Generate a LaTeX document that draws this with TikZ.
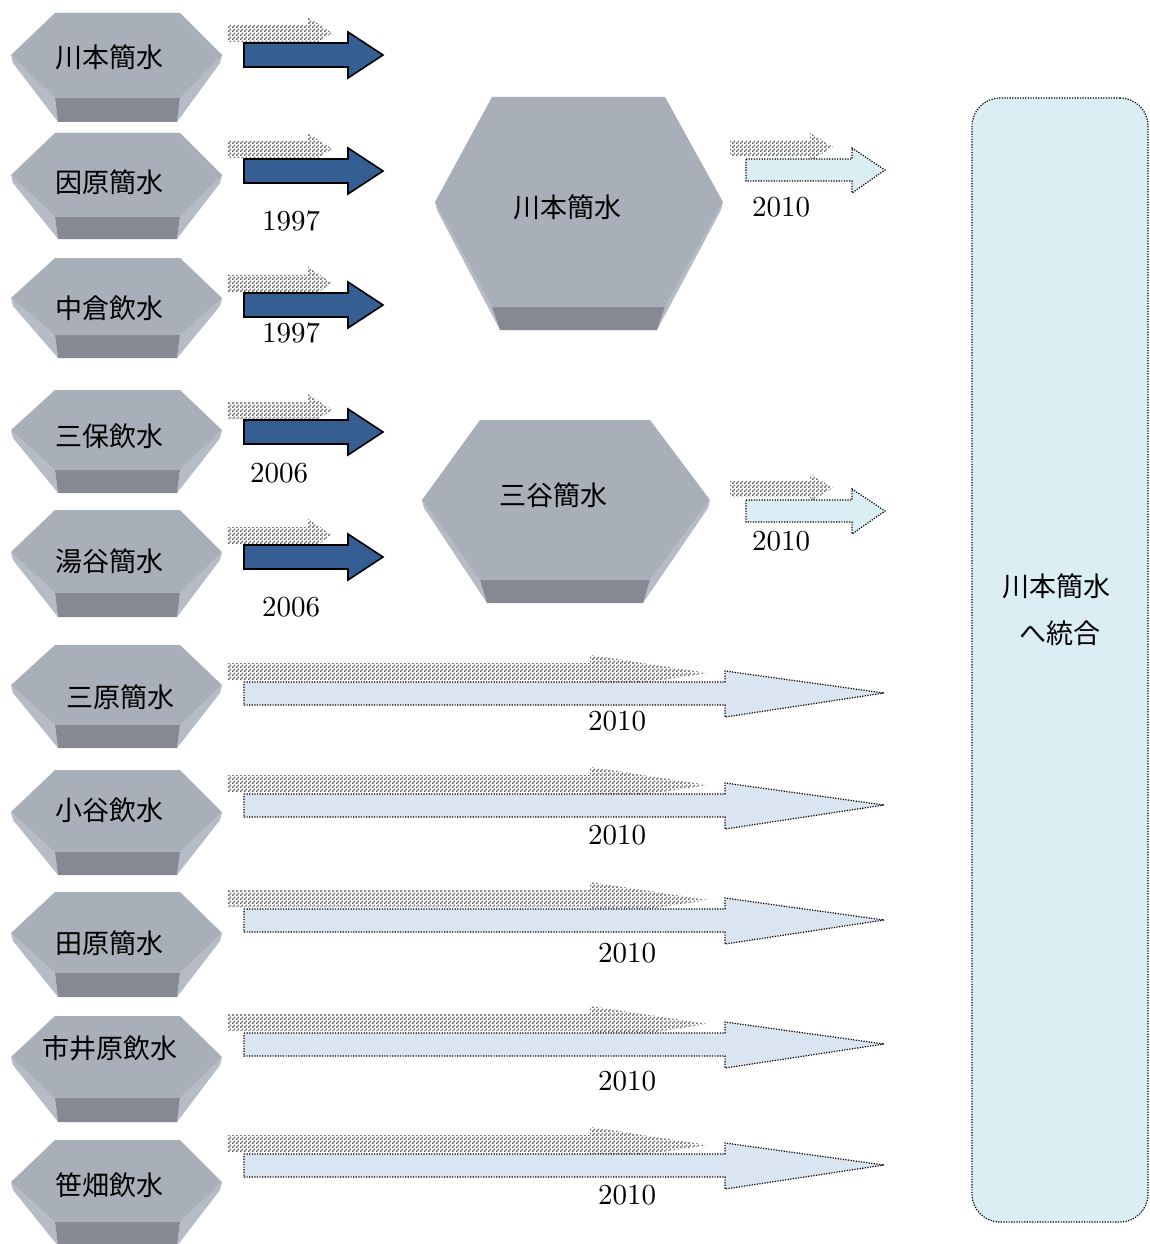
\documentclass[tikz,border=0pt]{standalone}
\usepackage{fontspec}
\newfontfamily\cjk{Noto Sans CJK JP}
\newfontfamily\numfont{lmroman10-regular.otf}
\usetikzlibrary{patterns}
\pgfdeclarepatternformonly{chk}{\pgfqpoint{0pt}{0pt}}{\pgfqpoint{4pt}{4pt}}{\pgfqpoint{4pt}{4pt}}{%
  \pgfpathrectangle{\pgfqpoint{0pt}{0pt}}{\pgfqpoint{2pt}{2pt}}%
  \pgfpathrectangle{\pgfqpoint{2pt}{2pt}}{\pgfqpoint{2pt}{2pt}}%
  \pgfusepath{fill}}
\definecolor{hextop}{HTML}{A9AFB8}
\definecolor{hexside}{HTML}{B6BCC6}
\definecolor{hexfront}{HTML}{868992}
\definecolor{darkblue}{HTML}{355F93}
\definecolor{paleblue}{HTML}{DAEEF3}
\definecolor{palegray}{HTML}{DBE5F1}
\definecolor{hatchgray}{HTML}{6A6A6A}
\tikzset{
  hexlabel/.style={font=\cjk\fontsize{27}{32}\selectfont, inner sep=0pt},
  yearlabel/.style={font=\numfont\fontsize{29}{36}\selectfont, inner sep=0pt},
  darkarrow/.style={fill=darkblue, draw=black, line width=1.6pt, line join=miter},
  hatcharrow/.style={pattern=chk, pattern color=hatchgray},
  dotline/.style={draw=black, line width=1.2pt, dash pattern=on 1.2pt off 1.4pt},
  shortlight/.style={dotline, fill=paleblue},
  longlight/.style={dotline, fill=palegray},
}
% #1 xl #2 xa #3 xb #4 xr #5 ytop #6 ytip #7 ydark #8 ybot #9 inset
\newcommand\hexShape[9]{%
  \fill[hexside] (#1,#6) -- (#1+2,#6+8) -- (#2+#9,#8) -- (#2,#7) -- cycle;
  \fill[hexside] (#4,#6) -- (#4-2,#6+8) -- (#3-#9,#8) -- (#3,#7) -- cycle;
  \fill[hexfront] (#2,#7) -- (#3,#7) -- (#3-#9,#8) -- (#2+#9,#8) -- cycle;
  \fill[hextop] (#2,#5) -- (#3,#5) -- (#4,#6) -- (#3,#7) -- (#2,#7) -- (#1,#6) -- cycle;
}
\newcommand\smallHex[4]{\hexShape{11}{55}{180}{222}{#1}{#2}{#3}{#4}{3}}
\newcommand\darkArrow[1]{%
  \fill[hatcharrow] (228,#1-30) -- (308,#1-30) -- (308,#1-38) -- (332,#1-22) -- (308,#1-6) -- (308,#1-13) -- (228,#1-13) -- cycle;
  \draw[darkarrow] (244,#1-12) -- (348,#1-12) -- (348,#1-23) -- (383,#1) -- (348,#1+23) -- (348,#1+12) -- (244,#1+12) -- cycle;
}
\newcommand\shortLight[1]{%
  \fill[hatcharrow] (730,#1-30) -- (810,#1-30) -- (810,#1-37) -- (833,#1-23) -- (810,#1-9) -- (810,#1-14) -- (730,#1-14) -- cycle;
  \draw[shortlight] (746,#1-11) -- (852,#1-11) -- (852,#1-22) -- (885,#1) -- (852,#1+23) -- (852,#1+11) -- (746,#1+11) -- cycle;
}
\newcommand\longLight[1]{%
  \fill[hatcharrow] (228,#1-30) -- (590,#1-30) -- (590,#1-38) -- (708,#1-20) -- (590,#1-2) -- (590,#1-13) -- (228,#1-13) -- cycle;
  \draw[longlight] (244,#1-11) -- (725,#1-11) -- (725,#1-22) -- (884,#1) -- (725,#1+24) -- (725,#1+12) -- (244,#1+12) -- cycle;
}
\begin{document}
\begin{tikzpicture}[x=1pt,y=-1pt]
\useasboundingbox (0,0) rectangle (1149,1244);
\fill[white] (0,0) rectangle (1149,1244);

% target box
\node[dotline, fill=paleblue, rounded corners=28pt, minimum width=176pt, minimum height=1124pt, inner sep=0pt] (target) at (1060,660) {};
\node[hexlabel] (targetA) at (1056,586) {川本簡水};
\node[hexlabel] (targetB) at (1060,633) {へ統合};

% small hexagons
\smallHex{13}{55}{98}{122}
\smallHex{133}{175}{217}{239}
\smallHex{258}{298}{335}{358}
\smallHex{390}{430}{470}{493}
\smallHex{510}{552}{593}{617}
\smallHex{645}{685}{725}{748}
\smallHex{770}{812}{852}{875}
\smallHex{892}{933}{973}{997}
\smallHex{1016}{1057}{1098}{1122}
\smallHex{1140}{1182}{1222}{1246}
\node[hexlabel] (s1) at (109,57) {川本簡水};
\node[hexlabel] (s2) at (109,182) {因原簡水};
\node[hexlabel] (s3) at (109,308) {中倉飲水};
\node[hexlabel] (s4) at (109,436) {三保飲水};
\node[hexlabel] (s5) at (109,561) {湯谷簡水};
\node[hexlabel] (s6) at (120,697) {三原簡水};
\node[hexlabel] (s7) at (109,810) {小谷飲水};
\node[hexlabel] (s8) at (109,943) {田原簡水};
\node[hexlabel] (s9) at (110,1048) {市井原飲水};
\node[hexlabel] (s10) at (109,1185) {笹畑飲水};

% big hexagons
\hexShape{435}{492}{665}{723}{97}{202}{307}{330}{8}
\hexShape{422}{480}{650}{710}{420}{500}{580}{603}{7}
\node[hexlabel] (b1) at (567,207) {川本簡水};
\node[hexlabel] (b2) at (553,495) {三谷簡水};

% dark arrows
\darkArrow{55}
\darkArrow{171}
\darkArrow{305}
\darkArrow{432}
\darkArrow{557}
\node[yearlabel] (y1) at (291,221) {1997};
\node[yearlabel] (y2) at (291,333) {1997};
\node[yearlabel] (y3) at (279,473) {2006};
\node[yearlabel] (y4) at (291,607) {2006};

% short light arrows
\shortLight{170}
\shortLight{511}
\node[yearlabel] (y5) at (781,207) {2010};
\node[yearlabel] (y6) at (781,541) {2010};

% long light arrows
\longLight{693}
\longLight{805}
\longLight{920}
\longLight{1044}
\longLight{1165}
\node[yearlabel] (y7) at (617,721) {2010};
\node[yearlabel] (y8) at (617,835) {2010};
\node[yearlabel] (y9) at (627,953) {2010};
\node[yearlabel] (y10) at (627,1081) {2010};
\node[yearlabel] (y11) at (627,1195) {2010};
\end{tikzpicture}
\end{document}
